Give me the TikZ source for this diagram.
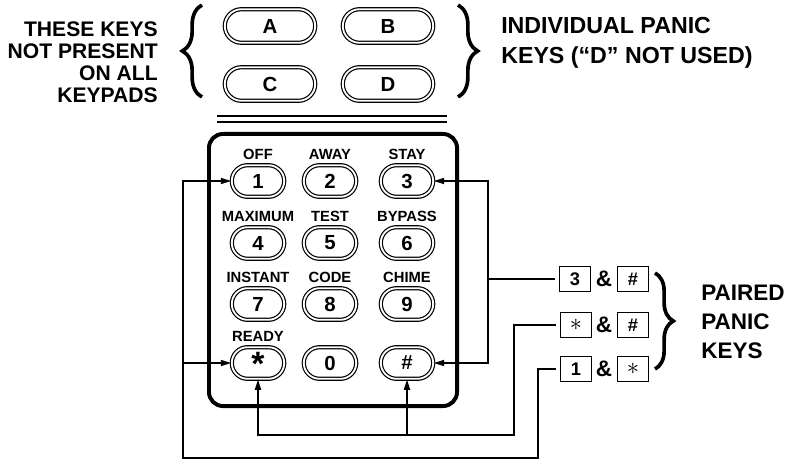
\documentclass[tikz,border=0pt]{standalone}
\usepackage{fontspec}
\setmainfont{Liberation Sans}
\usetikzlibrary{arrows.meta,positioning,shapes.misc,decorations.pathreplacing,calc}

\tikzset{
  padkey/.style={rounded rectangle, draw, double, line width=0.85pt,
    double distance=1.3pt, minimum width=1.31cm, minimum height=0.79cm,
    inner sep=0pt, font=\fontsize{14.5}{14.5}\selectfont\bfseries},
  bigkey/.style={padkey, minimum width=2.26cm, minimum height=0.84cm},
  keycap/.style={font=\fontsize{10.5}{10.5}\selectfont\bfseries, inner sep=1pt},
  pairbox/.style={draw, line width=0.7pt, minimum width=0.76cm,
    minimum height=0.64cm, inner sep=0pt, font=\fontsize{13}{13}\selectfont\bfseries},
  amp/.style={font=\fontsize{16}{16}\selectfont\bfseries, inner sep=0pt},
  sidetext/.style={font=\bfseries, inner sep=0pt},
  conn/.style={line width=1.2pt},
  arrowed/.style={-{Triangle[length=2.6mm,width=1.5mm]}},
  curly/.style={decorate, decoration={brace, amplitude=#1}, line width=2.6pt},
  label distance=2.5pt,
}

\begin{document}
\begin{tikzpicture}[x=0.025cm, y=-0.025cm]
  \useasboundingbox (0,0) rectangle (788,461);

  % optional keys on top
  \node[bigkey] (keyA) at (270,26) {A};
  \node[bigkey] (keyB) at (388,26) {B};
  \node[bigkey] (keyC) at (270,84) {C};
  \node[bigkey] (keyD) at (388,84) {D};
  \draw[curly=14pt] (202,97) -- (202,5);
  \draw[curly=14pt] (458,5) -- (458,97);
  \node[sidetext, align=right, anchor=east,
    font=\fontsize{15}{15.6}\selectfont\bfseries] (notall) at (158,62)
    {THESE KEYS\\NOT PRESENT\\ON ALL\\KEYPADS};
  \node[sidetext, align=left, anchor=west,
    font=\fontsize{16.5}{21.3}\selectfont\bfseries] (single) at (501,43)
    {INDIVIDUAL PANIC\\KEYS (“D” NOT USED)};

  % separator and keypad body
  \draw[line width=1.1pt] (217,116) -- (447,116);
  \draw[line width=1.1pt] (217,122) -- (447,122);
  \node[draw, line width=2.8pt, rounded corners=0.35cm, minimum width=6.2cm,
    minimum height=6.8cm] (pad) at (333,270) {};

  % number keys
  \node[padkey, label={[keycap]above:OFF}]     (k1) at (258,181) {1};
  \node[padkey, label={[keycap]above:AWAY}]    (k2) at (330,181) {2};
  \node[padkey, label={[keycap]above:STAY}]    (k3) at (407,181) {3};
  \node[padkey, label={[keycap]above:MAXIMUM}] (k4) at (258,243) {4};
  \node[padkey, label={[keycap]above:TEST}]    (k5) at (330,243) {5};
  \node[padkey, label={[keycap]above:BYPASS}]  (k6) at (407,243) {6};
  \node[padkey, label={[keycap]above:INSTANT}] (k7) at (258,304) {7};
  \node[padkey, label={[keycap]above:CODE}]    (k8) at (330,304) {8};
  \node[padkey, label={[keycap]above:CHIME}]   (k9) at (407,304) {9};
  \node[padkey, label={[keycap]above:READY}]   (kstar) at (258,363)
    {\smash{\raisebox{-0.62em}{\fontsize{24}{24}\selectfont *}}};
  \node[padkey] (k0) at (330,363) {0};
  \node[padkey] (khash) at (407,363) {\#};

  % paired panic keys
  \node[pairbox] (p1a) at (575,279) {3};
  \node[amp] (p1m) at (604,279) {\&};
  \node[pairbox] (p1b) at (633,279) {\#};
  \node[pairbox] (p2a) at (576,325) {\fontsize{18}{18}\selectfont$\ast$};
  \node[amp] (p2m) at (604,325) {\&};
  \node[pairbox] (p2b) at (633,325) {\#};
  \node[pairbox] (p3a) at (576,369) {1};
  \node[amp] (p3m) at (604,369) {\&};
  \node[pairbox] (p3b) at (633,369) {\fontsize{18}{18}\selectfont$\ast$};
  \draw[curly=13pt] (655,273) -- (655,369);
  \node[sidetext, align=left, anchor=west,
    font=\fontsize{16}{20.6}\selectfont\bfseries] (paired) at (701,322)
    {PAIRED\\PANIC\\KEYS};

  % connectors
  \coordinate (jr) at (488,279);
  \coordinate (jm) at (514,435);
  \coordinate (jo) at (538,458);
  \coordinate (jl) at (183,458);
  \draw[conn, shorten <=0.12cm] (p1a.west) -- (jr);
  \draw[conn, arrowed] (jr) |- (k3.east);
  \draw[conn, arrowed] (jr) |- (khash.east);
  \draw[conn, arrowed, shorten <=0.12cm] (p2a.west) -| (jm) -| (kstar.south);
  \draw[conn, arrowed] (jm -| khash.south) -- (khash.south);
  \draw[conn, arrowed, shorten <=0.12cm] (p3a.west) -| (jo) -- (jl) |- (k1.west);
  \draw[conn, arrowed] (jl |- kstar.west) -- (kstar.west);
\end{tikzpicture}
\end{document}
